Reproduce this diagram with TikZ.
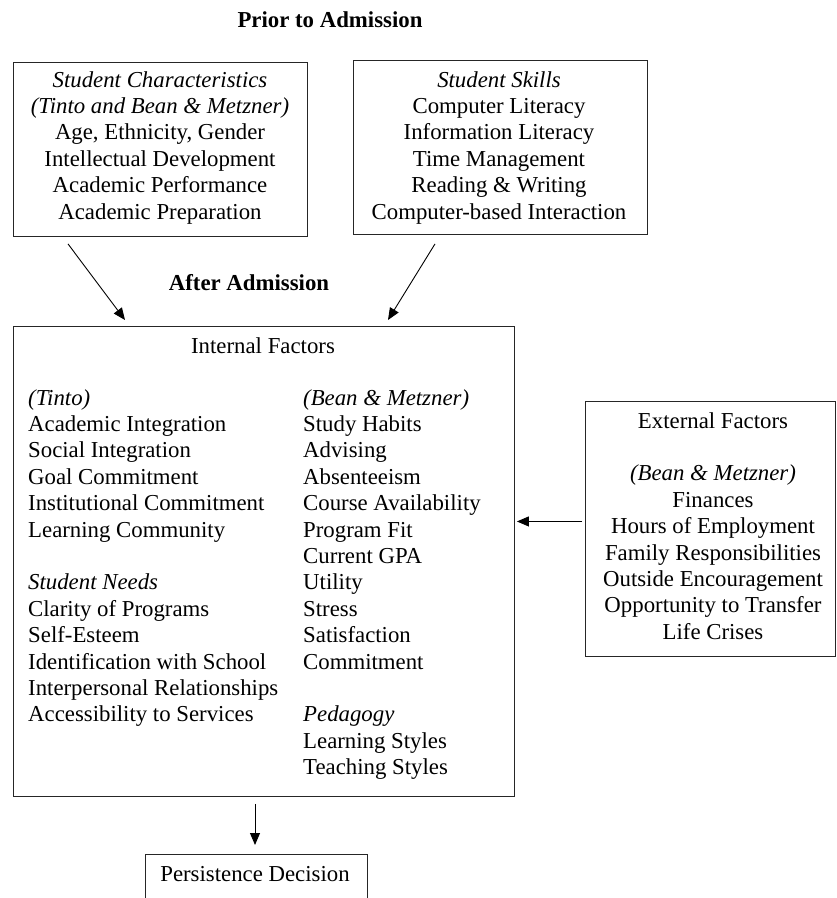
\documentclass[tikz,border=0pt]{standalone}
\usepackage{fontspec}
\setmainfont{Liberation Serif}
\usetikzlibrary{arrows.meta}
\begin{document}
\begin{tikzpicture}[x=1pt,y=-1pt,
  box/.style={draw=black!85,line width=0.9pt,inner sep=0,anchor=north west},
  txt/.style={inner sep=0,font=\fontsize{22.8}{26.4}\selectfont},
  hd/.style={inner sep=0,font=\fontsize{22.8}{26.4}\selectfont\bfseries,anchor=base},
  arr/.style={draw=black,line width=0.9pt,-{Triangle[length=12pt,width=10pt]}}]
\useasboundingbox (0,0) rectangle (837,898);
% headings
\node[hd] (prior) at (330,27) {Prior to Admission};
\node[hd] (after) at (249,290) {After Admission};
% boxes
\node[box,minimum width=294,minimum height=174] (b1) at (13,62) {};
\node[box,minimum width=294,minimum height=174] (b2) at (353,60) {};
\node[box,minimum width=501,minimum height=470] (int) at (13,326) {};
\node[box,minimum width=250,minimum height=255] (ext) at (585,401) {};
\node[box,minimum width=222,minimum height=60] (pd) at (145,854) {};
% box 1 text
\foreach \t [count=\i from 0] in {{\itshape Student Characteristics},{\itshape (Tinto and Bean \& Metzner)},{Age, Ethnicity, Gender},Intellectual Development,Academic Performance,Academic Preparation}
  \node[txt,anchor=base,name=c\i] at (160,{87+\i*26.4}) {\t};
% box 2 text
\foreach \t [count=\i from 0] in {{\itshape Student Skills},Computer Literacy,Information Literacy,Time Management,Reading \& Writing,Computer-based Interaction}
  \node[txt,anchor=base,name=s\i] at (499,{87+\i*26.4}) {\t};
% internal
\node[txt,anchor=base] (inth) at (263,353) {Internal Factors};
\foreach \t [count=\i from 0] in {{\itshape (Tinto)},Academic Integration,Social Integration,Goal Commitment,Institutional Commitment,Learning Community,{},{\itshape Student Needs},Clarity of Programs,Self-Esteem,Identification with School,Interpersonal Relationships,Accessibility to Services}
  \node[txt,anchor=base west,name=l\i] at (28,{405+\i*26.4}) {\t};
\foreach \t [count=\i from 0] in {{\itshape (Bean \& Metzner)},Study Habits,Advising,Absenteeism,Course Availability,Program Fit,Current GPA,Utility,Stress,Satisfaction,Commitment,{},{\itshape Pedagogy},Learning Styles,Teaching Styles}
  \node[txt,anchor=base west,name=r\i] at (303,{405+\i*26.4}) {\t};
% external
\foreach \t [count=\i from 0] in {External Factors,{},{\itshape (Bean \& Metzner)},Finances,Hours of Employment,Family Responsibilities,Outside Encouragement,Opportunity to Transfer,Life Crises}
  \node[txt,anchor=base,name=e\i] at (713,{428+\i*26.4}) {\t};
% persistence
\node[txt,anchor=base] (pdt) at (255,881) {Persistence Decision};
% arrows
\coordinate (ea) at ([xshift=-3pt,yshift=7.5pt]ext.west);
\coordinate (eb) at (ea -| int.east);
\draw[arr] ([xshift=55pt,yshift=-7pt]b1.south west) -- ([xshift=112pt,yshift=6pt]int.north west);
\draw[arr] ([xshift=82pt,yshift=-9pt]b2.south west) -- ([xshift=375pt,yshift=6pt]int.north west);
\draw[arr] (ea) -- ([xshift=2pt]eb);
\draw[arr] ([xshift=242pt,yshift=-7pt]int.south west) -- ([xshift=110pt,yshift=9pt]pd.north west);
\end{tikzpicture}
\end{document}
